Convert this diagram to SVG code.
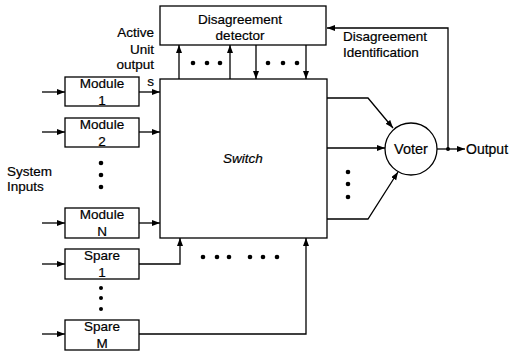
<svg xmlns="http://www.w3.org/2000/svg" width="510" height="351" viewBox="0 0 510 351">
<defs>
<marker id="ah" markerUnits="userSpaceOnUse" markerWidth="9" markerHeight="7" refX="8" refY="3" orient="auto">
<path d="M0,0 L8,3 L0,6 z" fill="#000"/>
</marker>
<style>
.box{fill:#fff;stroke:#000;stroke-width:1.3}
.ln{fill:none;stroke:#000;stroke-width:1.3}
.ar{fill:none;stroke:#000;stroke-width:1.3;marker-end:url(#ah)}
text{font-family:"Liberation Sans",Arial,sans-serif;font-size:13.5px;fill:#000;stroke:#000;stroke-width:0.2}
.c{text-anchor:middle}
.r{text-anchor:end}
.dot{fill:#000}
</style>
</defs>
<rect width="510" height="351" fill="#fff"/>

<g id="connectors">
<line class="ar" x1="42" y1="92" x2="65" y2="92"/>
<line class="ar" x1="42" y1="132" x2="65" y2="132"/>
<line class="ar" x1="42" y1="223" x2="65" y2="223"/>
<line class="ar" x1="42" y1="264" x2="65" y2="264"/>
<line class="ar" x1="42" y1="334" x2="65" y2="334"/>
<line class="ar" x1="139" y1="92" x2="160" y2="92"/>
<line class="ar" x1="139" y1="132" x2="160" y2="132"/>
<line class="ar" x1="139" y1="223" x2="160" y2="223"/>
<polyline class="ar" points="139,264 180,264 180,238"/>
<polyline class="ar" points="139,334 306,334 306,238"/>
<line class="ar" x1="179" y1="79" x2="179" y2="45"/>
<line class="ar" x1="230" y1="79" x2="230" y2="45"/>
<line class="ar" x1="256" y1="45" x2="256" y2="79"/>
<line class="ar" x1="306" y1="45" x2="306" y2="79"/>
<polyline class="ar" points="327,98 368,98 393,128"/>
<line class="ar" x1="327" y1="148" x2="385" y2="148"/>
<polyline class="ar" points="327,219 368,219 398,172"/>
<line class="ar" x1="437" y1="149" x2="465" y2="149"/>
<circle class="dot" cx="448" cy="149" r="2"/>
<polyline class="ar" points="448,149 448,28 327,28"/>
</g>

<g id="detector">
<rect class="box" x="160" y="6" width="166" height="39"/>
<text class="c" x="240" y="24">Disagreement</text>
<text class="c" x="240" y="40">detector</text>
</g>

<g id="switch">
<rect class="box" x="160" y="79" width="167" height="159"/>
<text class="c" x="243" y="163" font-style="italic">Switch</text>
</g>

<g id="voter">
<circle class="box" cx="411" cy="149" r="26"/>
<text class="c" x="411" y="154" style="font-size:14.5px">Voter</text>
</g>

<g id="module1">
<rect class="box" x="65" y="77" width="74" height="29"/>
<text class="c" x="102" y="88">Module</text>
<text class="c" x="102" y="105">1</text>
</g>
<g id="module2">
<rect class="box" x="65" y="118" width="74" height="29"/>
<text class="c" x="102" y="129">Module</text>
<text class="c" x="102" y="146">2</text>
</g>
<g id="moduleN">
<rect class="box" x="65" y="208" width="74" height="30"/>
<text class="c" x="102" y="219">Module</text>
<text class="c" x="102" y="236">N</text>
</g>
<g id="spare1">
<rect class="box" x="65" y="249" width="74" height="30"/>
<text class="c" x="102" y="260">Spare</text>
<text class="c" x="102" y="277">1</text>
</g>
<g id="spareM">
<rect class="box" x="65" y="320" width="74" height="30"/>
<text class="c" x="102" y="331">Spare</text>
<text class="c" x="102" y="348">M</text>
</g>

<g id="dots">
<circle class="dot" cx="193" cy="63" r="2.3"/>
<circle class="dot" cx="207" cy="63" r="2.3"/>
<circle class="dot" cx="220" cy="63" r="2.3"/>
<circle class="dot" cx="268" cy="63" r="2.3"/>
<circle class="dot" cx="283" cy="63" r="2.3"/>
<circle class="dot" cx="297" cy="63" r="2.3"/>
<circle class="dot" cx="101" cy="163" r="2.3"/>
<circle class="dot" cx="101" cy="175" r="2.3"/>
<circle class="dot" cx="101" cy="187" r="2.3"/>
<circle class="dot" cx="101" cy="288" r="2"/>
<circle class="dot" cx="101" cy="298" r="2"/>
<circle class="dot" cx="101" cy="309" r="2"/>
<circle class="dot" cx="203" cy="257" r="2.3"/>
<circle class="dot" cx="217" cy="257" r="2.3"/>
<circle class="dot" cx="229" cy="257" r="2.3"/>
<circle class="dot" cx="250" cy="257" r="2.3"/>
<circle class="dot" cx="263" cy="257" r="2.3"/>
<circle class="dot" cx="277" cy="257" r="2.3"/>
<circle class="dot" cx="348" cy="172" r="2.3"/>
<circle class="dot" cx="348" cy="184" r="2.3"/>
<circle class="dot" cx="348" cy="197" r="2.3"/>
</g>

<g id="labels">
<text class="r" x="154" y="37">Active</text>
<text class="r" x="154" y="54">Unit</text>
<text class="r" x="154" y="69">output</text>
<text class="r" x="154" y="86">s</text>
<text x="7" y="176">System</text>
<text x="7" y="191">Inputs</text>
<text x="343" y="41">Disagreement</text>
<text x="343" y="57">Identification</text>
<text x="466" y="154" style="font-size:14px">Output</text>
</g>
</svg>
